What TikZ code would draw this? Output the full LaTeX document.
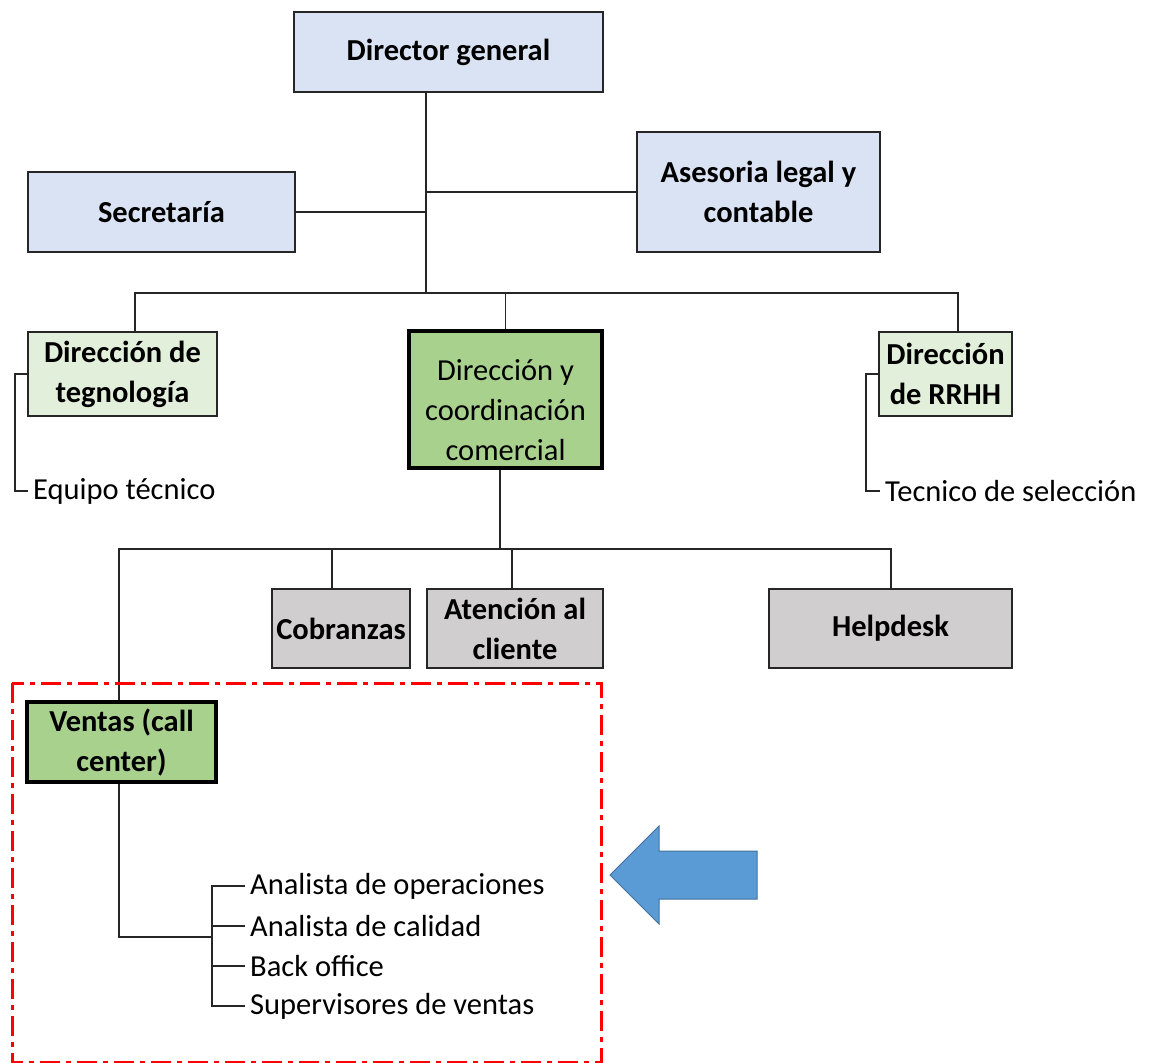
\documentclass[tikz,border=0pt]{standalone}
\usepackage{fontspec}
\setmainfont{Carlito}
\definecolor{lav}{HTML}{DAE3F3}
\definecolor{lgreen}{HTML}{E2EFDA}
\definecolor{mgreen}{HTML}{A9D18E}
\definecolor{lgray}{HTML}{D0CECE}
\definecolor{arrowblue}{HTML}{5B9BD5}
\definecolor{arrowedge}{HTML}{41719C}
\definecolor{edge}{HTML}{262626}
\begin{document}
\begin{tikzpicture}[x=1pt,y=-1pt,
  txt/.style={font=\fontsize{30.5}{40}\selectfont, text=black},
  box/.style={txt, draw=edge, line width=1.6pt, align=center, inner sep=0pt, font=\fontsize{30.5}{40}\selectfont\bfseries},
  topbox/.style={box, fill=lav},
  subbox/.style={box, fill=lgreen},
  keybox/.style={box, fill=mgreen, draw=black, line width=3.2pt},
  unitbox/.style={box, fill=lgray},
  item/.style={txt, anchor=west, inner sep=0pt},
  link/.style={draw=edge, line width=1.5pt}]
\useasboundingbox (0,0) rectangle (1149,1063);

% top level
\node[topbox, minimum width=309, minimum height=80] (dg) at (448.5,52) {Director general};
\node[topbox, minimum width=267, minimum height=80] (sec) at (161.5,212) {Secretaría};
\node[topbox, minimum width=243, minimum height=120] (ase) at (758.5,192) {Asesoria legal y\\contable};

% directions
\node[subbox, minimum width=189, minimum height=84] (tec) at (122.5,374) {Dirección de\\tegnología};
\node[keybox, minimum width=193, minimum height=137] (com) at (505.5,399.5) {};
\node[txt, align=center, inner sep=0pt] (comtxt) at (com.center) [yshift=-11pt] {Dirección y\\coordinación\\comercial};
\node[subbox, minimum width=133, minimum height=84] (rrhh) at (945.5,374) {Dirección\\de RRHH};

\node[item] (eq) at (33,491) {Equipo técnico};
\node[item] (ts) at (885,491) {Tecnico de selección};

% commercial units
\node[unitbox, minimum width=138, minimum height=79] (cob) at (341,628.5) {Cobranzas};
\node[unitbox, minimum width=176, minimum height=79] (ate) at (515,628.5) {Atención al\\cliente};
\node[unitbox, minimum width=243, minimum height=79] (help) at (890.5,628.5) {Helpdesk};
\node[keybox, minimum width=189, minimum height=80] (ven) at (121.5,742) {Ventas (call\\center)};

% call center staff
\node[item] (ao) at (250,886) {Analista de operaciones};
\node[item] (ac) at (250,926) {Analista de calidad};
\node[item] (bo) at (250,966) {Back office};
\node[item] (sv) at (250,1006) {Supervisores de ventas};

% junctions
\coordinate (j1) at (426,293);
\coordinate (b1) at (135,293);
\coordinate (b3) at (958,293);
\coordinate (j2) at (500,549);
\coordinate (v) at (119,549);
\coordinate (c1) at (332,549);
\coordinate (c2) at (512,549);
\coordinate (c3) at (891,549);
\coordinate (k) at (212,937);

% connectors
\draw[link] (dg.south -| j1) -- (j1);
\draw[link] (sec.east) -- (sec.east -| j1);
\draw[link] (ase.west) -- (ase.west -| j1);
\draw[link] (tec.north -| b1) -- (b1) -- (b3) -- (rrhh.north -| b3);
\draw[link] (com.north) -- (com.north |- b1);
\draw[link] (tec.west) -- ++(-12,0) |- ([xshift=-5pt]eq.west);
\draw[link] (rrhh.west) -- ++(-12,0) |- ([xshift=-5pt]ts.west);

\draw[link] (com.south -| j2) -- (j2);
\draw[link] (ven.north -| v) -- (v) -- (c3) -- (help.north -| c3);
\draw[link] (c1) -- (cob.north -| c1);
\draw[link] (c2) -- (ate.north -| c2);

\draw[link] (ven.south -| v) |- (k);
\draw[link] ([xshift=-5pt]ao.west) -- (ao.west -| k) -- (sv.west -| k) -- ([xshift=-5pt]sv.west);
\draw[link] (ac.west -| k) -- ([xshift=-5pt]ac.west);
\draw[link] (bo.west -| k) -- ([xshift=-5pt]bo.west);

% highlighted area
\draw[red, line width=3pt, dash pattern=on 20pt off 6pt on 5pt off 6pt] (12,683) rectangle (601,1062);

% pointer
\draw[fill=arrowblue, draw=arrowedge, line width=1pt] (610,875) -- (659,826) -- (659,851) -- (757,851) -- (757,899) -- (659,899) -- (659,924) -- cycle;
\end{tikzpicture}
\end{document}
